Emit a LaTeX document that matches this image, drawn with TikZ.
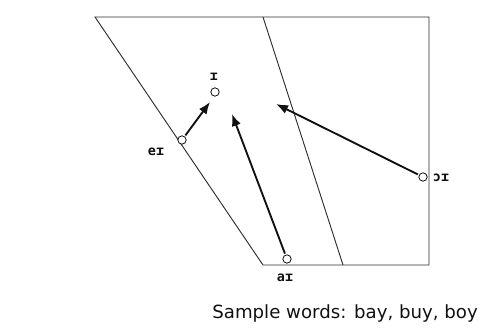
\documentclass[tikz,border=0pt]{standalone}
\usepackage{fontspec}
\setmainfont{DejaVu Sans}
\newfontfamily\ipafont{DejaVu Sans Mono}
\usetikzlibrary{arrows.meta, positioning}
\definecolor{FrameGray}{HTML}{2E2E2E}
\definecolor{InkBlack}{HTML}{111111}
\tikzset{
  frame/.style={draw=FrameGray, line width=0.8pt},
  target/.style={circle, draw=InkBlack, fill=white, line width=0.7pt, minimum size=0.25cm, inner sep=0pt},
  glide/.style={-{Latex[length=3.6mm, width=2.8mm]}, line width=1.6pt, draw=InkBlack, shorten <=1pt},
  ipa/.style={font=\ipafont\bfseries\fontsize{11.5}{12}\selectfont, text=InkBlack, inner sep=1pt},
  caption/.style={font=\fontsize{15.5}{18}\selectfont, text=InkBlack, inner sep=0pt, anchor=east}
}
\begin{document}
\begin{tikzpicture}[x=0.03cm, y=-0.03cm]
\useasboundingbox (0,0) rectangle (483,331);
% vowel quadrilateral
\draw[frame] (95,17) -- (429,17) -- (429,265) -- (263,265) -- cycle;
\draw[frame] (263,17) -- (343,265);
% targets
\node[target] (i) at (215,92) {};
\node[target] (ei) at (182,140) {};
\node[target] (ai) at (287,259) {};
\node[target] (oi) at (423,177) {};
\node[ipa] (ilab) at (214,77) {ɪ};
\node[ipa] (eilab) at (156,152) {eɪ};
\node[ipa] (ailab) at (285,278) {aɪ};
\node[ipa] (oilab) at (441,178) {ɔɪ};
% glide ends
\coordinate (eiend) at (210,102);
\coordinate (aiend) at (232,114);
\coordinate (oiend) at (276,104);
\draw[glide] (ei) -- (eiend);
\draw[glide] (ai) -- (aiend);
\draw[glide] (oi) -- (oiend);
\node[caption] (words) at (478,313) {Sample words: bay, buy, boy};
\end{tikzpicture}
\end{document}
